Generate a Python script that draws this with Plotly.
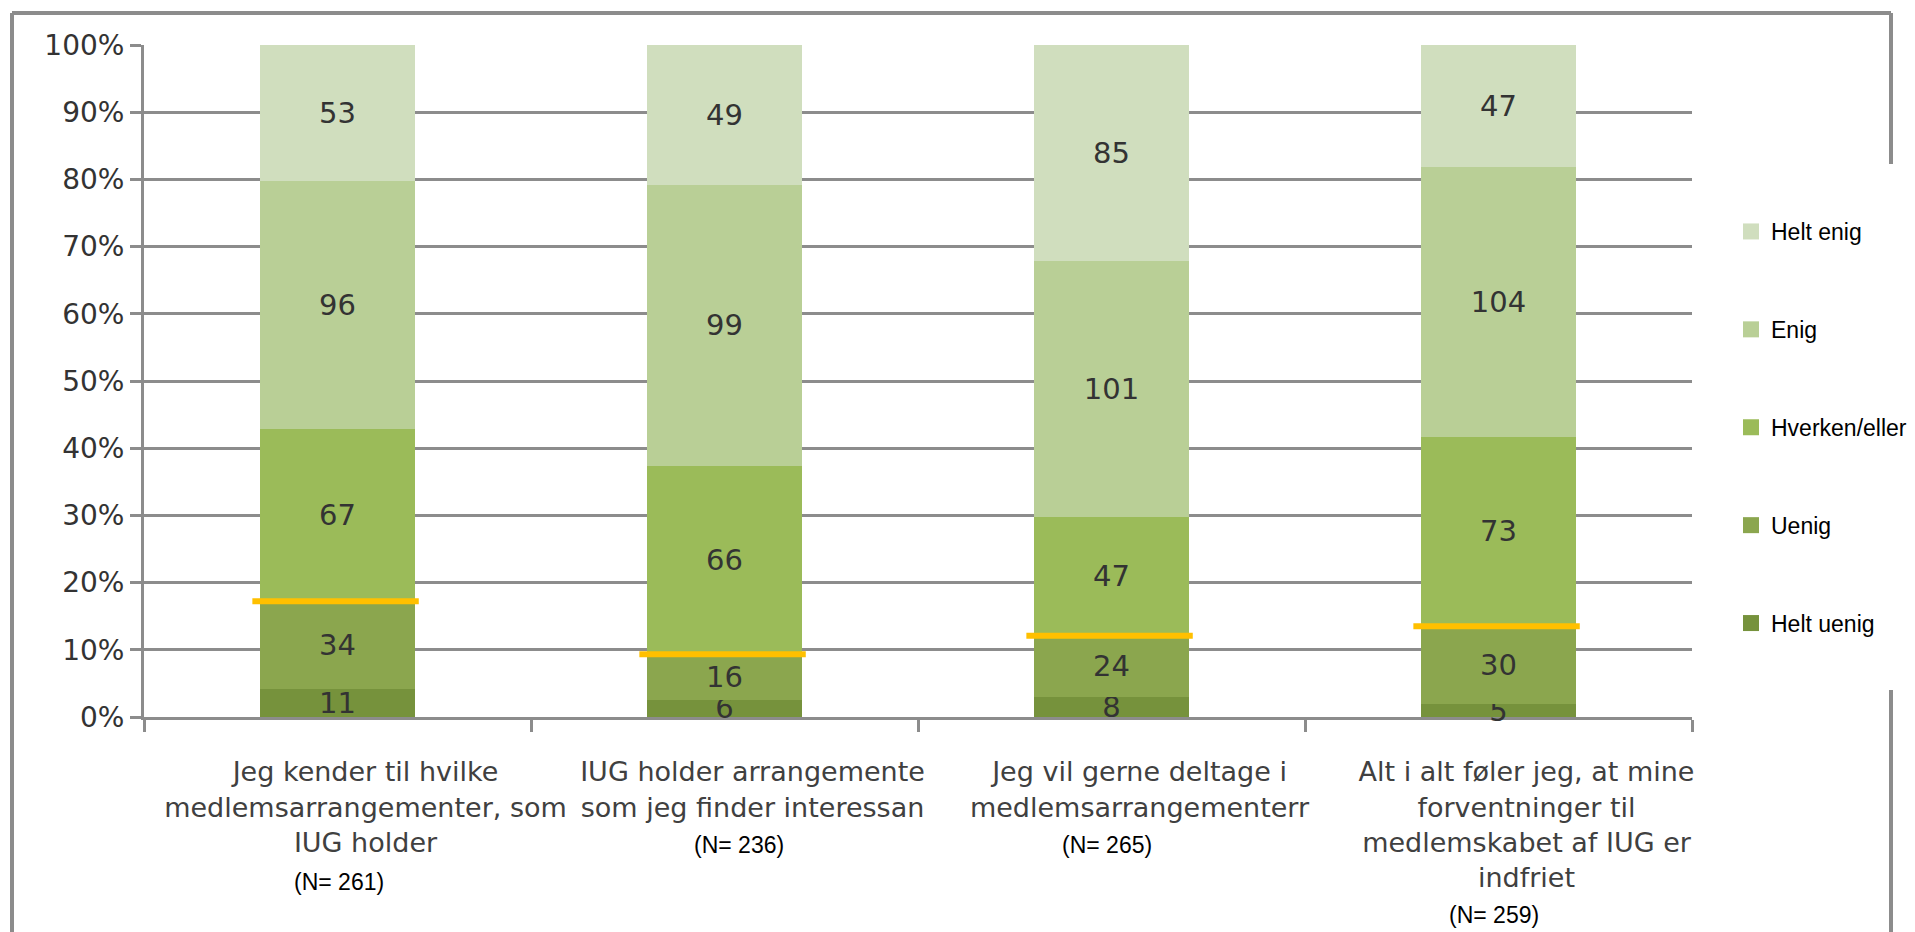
import plotly.graph_objects as go

# ---------------- data ----------------
categories = [
    "Jeg kender til hvilke<br>medlemsarrangementer, som<br>IUG holder",
    "IUG holder arrangemente<br>som jeg finder interessan",
    "Jeg vil gerne deltage i<br>medlemsarrangementerr",
    "Alt i alt føler jeg, at mine<br>forventninger til<br>medlemskabet af IUG er<br>indfriet",
]
series_names = ["Helt uenig", "Uenig", "Hverken/eller", "Enig", "Helt enig"]
helt_uenig = [11, 6, 8, 5]
uenig = [34, 16, 24, 30]
hverken = [67, 66, 47, 73]
enig = [96, 99, 101, 104]
helt_enig = [53, 49, 85, 47]
n_labels = ["(N= 261)", "(N= 236)", "(N= 265)", "(N= 259)"]
y_ticks = [0, 10, 20, 30, 40, 50, 60, 70, 80, 90, 100]

series_values = [helt_uenig, uenig, hverken, enig, helt_enig]
colors = ["#76923C", "#8BA64E", "#9BBB59", "#B9CF96", "#D0DEBE"]

totals = [sum(v) for v in zip(*series_values)]

# ---------------- layout geometry (screen pixels; page body has 8px margin) ----------------
W, H = 1915, 932
OFF = 8
PLOT_L, PLOT_R, PLOT_T, PLOT_B = 144, 1692, 45, 717
ML = PLOT_L - OFF
MT = PLOT_T - OFF
MR = W - (PLOT_R - OFF)
MB = H - (PLOT_B - OFF)
PW, PH = PLOT_R - PLOT_L, PLOT_B - PLOT_T


def px_x(px):
    return (px - PLOT_L) / PW


def px_y(py):
    return (PLOT_B - py) / PH


fig = go.Figure()
x_idx = list(range(len(categories)))

for name, vals, col in zip(series_names, series_values, colors):
    pct = [v / t * 100 for v, t in zip(vals, totals)]
    fig.add_trace(go.Bar(
        x=x_idx, y=pct, name=name, legendgroup=name, showlegend=False,
        marker=dict(color=col, line=dict(width=0)),
        text=[str(v) for v in vals], textposition="inside",
        insidetextanchor="middle", textangle=0, constraintext="none",
        textfont=dict(family="DejaVu Sans", size=29, color="#333333"),
        cliponaxis=False, hoverinfo="skip",
    ))

# legend entries (square markers), listed top-down
for name, col in zip(series_names[::-1], colors[::-1]):
    fig.add_trace(go.Scatter(
        x=[None], y=[None], mode="markers", name=name, legendgroup=name,
        marker=dict(symbol="square", size=16, color=col),
        showlegend=True,
    ))

# yellow marker lines at the disagree / neutral boundary
for i in x_idx:
    ylev = (helt_uenig[i] + uenig[i]) / totals[i] * 100
    fig.add_shape(type="line", xref="x", yref="y",
                  x0=i - 0.22, x1=i + 0.21, y0=ylev, y1=ylev,
                  line=dict(color="#FFC000", width=6), layer="above")

# N annotations
n_pos = [(1, 882), (14, 845), (-5, 845), (-5, 915)]
for i, (lab, (dx, py)) in enumerate(zip(n_labels, n_pos)):
    fig.add_annotation(x=i, xref="x", xshift=dx, y=px_y(py), yref="paper",
                       text=lab, showarrow=False, xanchor="center", yanchor="middle",
                       font=dict(family="Liberation Sans, Arial", size=23, color="#000000"))

# outer frame (broken on the right by the legend)
fc = "#8C8C8C"
fw = 4
frame_segments = [
    (12, 13, 12, 936),
    (12, 13, 1891, 13),
    (1891, 13, 1891, 164),
    (1891, 690, 1891, 936),
]
for x0, y0, x1, y1 in frame_segments:
    fig.add_shape(type="line", xref="paper", yref="paper",
                  x0=px_x(x0), y0=px_y(y0), x1=px_x(x1), y1=px_y(y1),
                  line=dict(color=fc, width=fw))

fig.update_layout(
    width=W, height=H,
    margin=dict(l=ML, r=MR, t=MT, b=MB, autoexpand=False),
    barmode="stack", bargap=0.6,
    plot_bgcolor="white", paper_bgcolor="white",
    font=dict(family="DejaVu Sans", color="#333333"),
    legend=dict(
        x=px_x(1731), xanchor="left", y=px_y(210), yanchor="top",
        traceorder="grouped", tracegroupgap=65,
        font=dict(family="Liberation Sans, Arial", size=23, color="#000000"),
        bgcolor="rgba(0,0,0,0)",
    ),
    xaxis=dict(
        type="category", tickmode="array", tickvals=x_idx, ticktext=categories,
        range=[-0.5, 3.5], tickson="boundaries", tickangle=0, automargin=False,
        showline=True, linecolor=fc, linewidth=3, layer="below traces",
        ticks="outside", ticklen=12, tickwidth=3, tickcolor=fc,
        showgrid=False, zeroline=False,
        tickfont=dict(family="DejaVu Sans", size=27, color="#404040"),
        ticklabelshift=28, ticklabelstandoff=29,
    ),
    yaxis=dict(
        range=[0, 100], tickmode="array", tickvals=y_ticks, automargin=False,
        ticktext=[f"{t}%" for t in y_ticks],
        showline=True, linecolor=fc, linewidth=3, layer="below traces",
        ticks="outside", ticklen=11, tickwidth=3, tickcolor=fc,
        showgrid=True, gridcolor=fc, gridwidth=3, zeroline=False,
        tickfont=dict(family="DejaVu Sans", size=28, color="#333333"),
    ),
)

fig.write_html("out.html")
